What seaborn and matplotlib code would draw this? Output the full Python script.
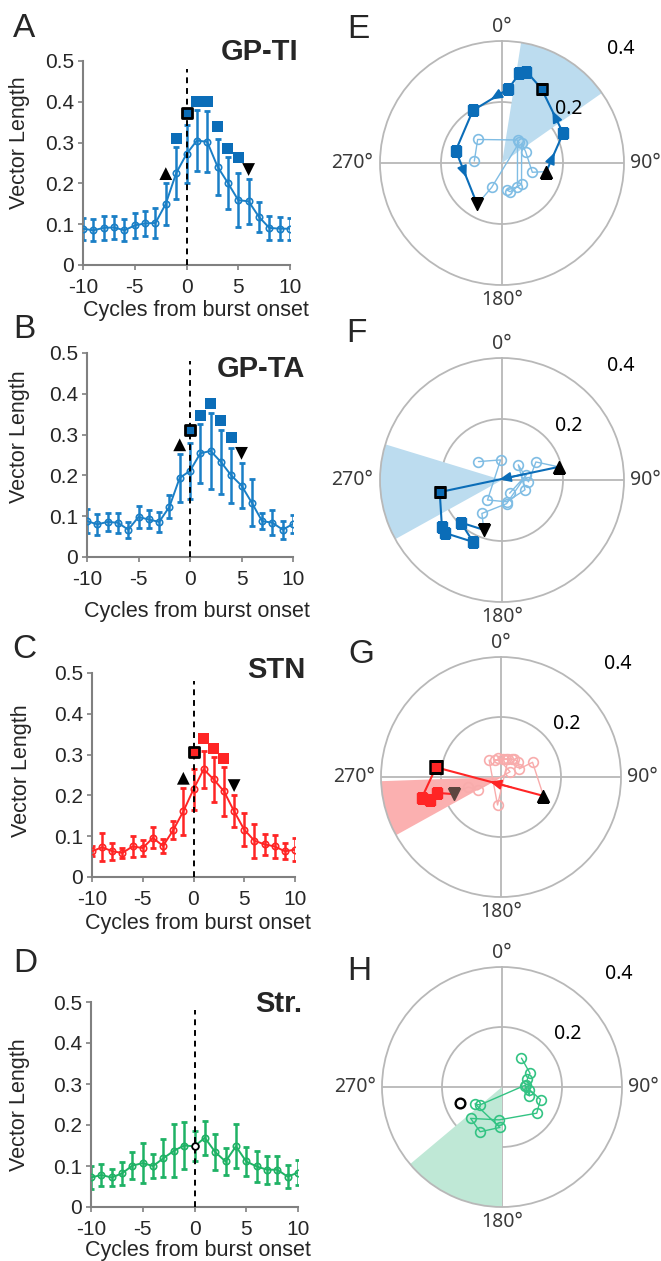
import numpy as np
import matplotlib
matplotlib.use('Agg')
import matplotlib.pyplot as plt
import seaborn as sns

sns.set_style('white')
plt.rcParams['font.family'] = ['Liberation Sans', 'DejaVu Sans']
plt.rcParams['axes.unicode_minus'] = False

W, H = 661, 1261

cycles = [-10, -9, -8, -7, -6, -5, -4, -3, -2, -1, 0, 1, 2, 3, 4, 5, 6, 7, 8, 9, 10]
x_ticks = [-10, -5, 0, 5, 10]
vl_ticks = [0, 0.1, 0.2, 0.3, 0.4, 0.5]
vl_ticklabels = ['0', '0.1', '0.2', '0.3', '0.4', '0.5']

# GP-TI
ti_vl = [0.089, 0.085, 0.091, 0.092, 0.085, 0.097, 0.102, 0.103, 0.150, 0.225, 0.272,
         0.305, 0.302, 0.241, 0.201, 0.159, 0.156, 0.118, 0.091, 0.089, 0.089]
ti_err = [0.027, 0.027, 0.030, 0.028, 0.027, 0.030, 0.030, 0.036, 0.052, 0.064, 0.071,
          0.074, 0.075, 0.069, 0.063, 0.067, 0.056, 0.037, 0.030, 0.028, 0.027]
ti_sq_x = [-1, 1, 2, 3, 4, 5]
ti_sq_y = [0.310, 0.400, 0.400, 0.339, 0.285, 0.264]
ti_box = [0, 0.372]
ti_up = [-2, 0.224]
ti_down = [6, 0.234]

# GP-TA
ta_vl = [0.088, 0.080, 0.086, 0.084, 0.067, 0.098, 0.092, 0.086, 0.123, 0.194, 0.211,
         0.254, 0.260, 0.233, 0.200, 0.175, 0.133, 0.088, 0.084, 0.067, 0.081]
ta_err = [0.029, 0.025, 0.023, 0.024, 0.020, 0.027, 0.022, 0.025, 0.028, 0.059, 0.068,
          0.073, 0.094, 0.079, 0.067, 0.055, 0.058, 0.020, 0.030, 0.022, 0.022]
ta_sq_x = [1, 2, 3, 4]
ta_sq_y = [0.346, 0.376, 0.335, 0.293]
ta_box = [0, 0.311]
ta_up = [-1, 0.275]
ta_down = [5, 0.254]

# STN
stn_vl = [0.063, 0.073, 0.063, 0.059, 0.075, 0.071, 0.096, 0.076, 0.115, 0.161, 0.215,
          0.264, 0.239, 0.210, 0.161, 0.116, 0.089, 0.080, 0.075, 0.063, 0.067]
stn_err = [0.012, 0.035, 0.021, 0.012, 0.025, 0.020, 0.026, 0.017, 0.022, 0.057, 0.050,
           0.046, 0.055, 0.060, 0.039, 0.040, 0.042, 0.025, 0.029, 0.020, 0.028]
stn_sq_x = [1, 2, 3]
stn_sq_y = [0.340, 0.315, 0.291]
stn_box = [0, 0.306]
stn_up = [-1, 0.242]
stn_down = [4, 0.224]

# Str.
str_vl = [0.072, 0.078, 0.072, 0.082, 0.101, 0.107, 0.100, 0.119, 0.137, 0.150, 0.148,
          0.169, 0.134, 0.111, 0.148, 0.111, 0.099, 0.091, 0.091, 0.074, 0.084]
str_err = [0.028, 0.026, 0.021, 0.028, 0.032, 0.048, 0.030, 0.047, 0.065, 0.058, 0.037,
           0.041, 0.044, 0.034, 0.054, 0.035, 0.037, 0.034, 0.033, 0.028, 0.030]

# polar trajectories (angle in degrees, vector length)
e_ang = [101, 64, 28, 15, 11, 5, 331, 285, 211]
e_r = [0.148, 0.223, 0.276, 0.310, 0.300, 0.244, 0.197, 0.157, 0.158]
e_pre_ang = [274, 314, 34, 147, 170, 164, 137, 45, 64, 107]
e_pre_r = [0.091, 0.111, 0.091, 0.093, 0.090, 0.098, 0.094, 0.091, 0.086, 0.104]
e_post_ang = [203, 40]
e_post_r = [0.087, 0.088]
e_wedge = [9, 55]

f_ang = [77, 259, 232, 227, 205, 224, 200]
f_r = [0.191, 0.208, 0.250, 0.255, 0.224, 0.194, 0.174]
f_pre_ang = [308, 356, 216, 168, 113, 47, 94, 62]
f_pre_r = [0.098, 0.066, 0.081, 0.073, 0.082, 0.073, 0.087, 0.126]
f_post_ang = [211, 169, 78, 150]
f_post_r = [0.128, 0.079, 0.082, 0.050]
f_wedge = [241, 287]

g_ang = [114, 278.5, 255, 252, 256, 250]
g_r = [0.155, 0.219, 0.274, 0.249, 0.219, 0.167]
g_pre_ang = [325, 187, 22, 341, 5, 37, 50, 66, 65]
g_pre_r = [0.069, 0.094, 0.064, 0.060, 0.059, 0.074, 0.076, 0.067, 0.116]
g_post_ang = [253, 241, 60, 350, 15, 30]
g_post_r = [0.114, 0.089, 0.035, 0.065, 0.062, 0.070]
g_wedge = [241, 268]

h_ang = [34, 64, 73, 96, 108, 87, 108, 127, 185, 225, 206, 183, 238, 231, 85]
h_r = [0.116, 0.104, 0.088, 0.092, 0.096, 0.077, 0.135, 0.145, 0.110, 0.148, 0.166,
       0.135, 0.106, 0.095, 0.080]
h_zero = [249, 0.150]
h_wedge = [180, 230]

blue = '#1a7fc6'
blue_dark = '#0b6db8'
blue_light = '#80bde4'
blue_wedge = '#bcdcef'
red = '#ff2525'
red_light = '#f8acac'
red_wedge = '#fbb0b0'
green = '#1fb265'
green_h = '#33c383'
green_wedge = '#bfe8d6'
gray = '#808080'
pgray = '#b8b8b8'

fig = plt.figure(figsize=(W / 100, H / 100), dpi=100)


def px_rect(x0, x1, ytop, ybot):
    return [x0 / W, 1 - ybot / H, (x1 - x0) / W, (ybot - ytop) / H]


def line_panel(rect, vl, err, col, name, name_xy, ylab_xy, xlab_xy):
    ax = fig.add_axes(rect)
    ax.errorbar(cycles, vl, yerr=err, fmt='none', ecolor=col, elinewidth=1.8,
                capsize=2.2, capthick=2, zorder=2)
    sns.lineplot(x=cycles, y=vl, ax=ax, color=col, lw=1.4, marker='o', ms=4.6,
                 markerfacecolor='none', markeredgecolor=col, markeredgewidth=1.2, zorder=3)
    ax.plot([0, 0], [0, 0.48], color='k', lw=1.4, dashes=(3, 2.5), zorder=4)
    ax.set_xlim(-10, 10)
    ax.set_ylim(0, 0.5)
    ax.set_xticks(x_ticks)
    ax.set_yticks(vl_ticks)
    ax.set_yticklabels(vl_ticklabels)
    for s in ['top', 'right']:
        ax.spines[s].set_visible(False)
    for s in ['left', 'bottom']:
        ax.spines[s].set_color(gray)
        ax.spines[s].set_linewidth(1.5)
    ax.tick_params(labelsize=15, length=3.5, width=1.2, color=gray, pad=3, direction='out',
                   bottom=True, left=True)
    ax.tick_params(axis='x', pad=6)
    ax.set_ylabel('Vector Length', fontsize=15.5)
    ax.set_xlabel('Cycles from burst onset', fontsize=15.5)
    ax.yaxis.set_label_coords(*ylab_xy)
    ax.xaxis.set_label_coords(*xlab_xy)
    ax.text(name_xy[0], name_xy[1], name, transform=ax.transAxes, ha='right', va='baseline',
            fontsize=21, fontweight='bold')
    return ax


def marks(ax, sq_x, sq_y, col, box, up, down):
    sns.scatterplot(x=sq_x, y=sq_y, ax=ax, marker='s', s=62, color=col, edgecolor='none', zorder=5)
    sns.scatterplot(x=[box[0]], y=[box[1]], ax=ax, marker='s', s=62, color=col,
                    edgecolor='k', linewidth=2, zorder=6)
    sns.scatterplot(x=[up[0]], y=[up[1]], ax=ax, marker='^', s=85, color='k', edgecolor='none', zorder=6)
    sns.scatterplot(x=[down[0]], y=[down[1]], ax=ax, marker='v', s=85, color='k', edgecolor='none', zorder=6)


axA = line_panel(px_rect(83, 290, 61, 265), ti_vl, ti_err, blue, 'GP-TI', (1.04, 1.005),
                 (-0.256, 0.60), (0.545, -0.17))
marks(axA, ti_sq_x, ti_sq_y, blue_dark, ti_box, ti_up, ti_down)

axB = line_panel(px_rect(87, 293, 353, 557), ta_vl, ta_err, blue, 'GP-TA', (1.058, 0.88),
                 (-0.277, 0.59), (0.534, -0.216))
marks(axB, ta_sq_x, ta_sq_y, blue_dark, ta_box, ta_up, ta_down)

axC = line_panel(px_rect(92, 295, 673, 877), stn_vl, stn_err, red, 'STN', (1.054, 0.975),
                 (-0.296, 0.52), (0.522, -0.176))
marks(axC, stn_sq_x, stn_sq_y, red, stn_box, stn_up, stn_down)

axD = line_panel(px_rect(91, 298, 1002, 1207), str_vl, str_err, green, 'Str.', (1.019, 0.951),
                 (-0.295, 0.50), (0.517, -0.161))
axD.plot([0], [str_vl[10]], marker='o', ms=4.8, mfc='white', mec='k', mew=1.3, zorder=6)


def polar_panel(cx, cy, R):
    ax = fig.add_axes(px_rect(cx - R, cx + R, cy - R, cy + R), projection='polar')
    ax.set_theta_zero_location('N')
    ax.set_theta_direction(-1)
    ax.set_ylim(0, 0.4)
    ax.set_yticks([0.2])
    ax.set_yticklabels([])
    ax.set_xticks(np.deg2rad([0, 90, 180, 270]))
    ax.set_xticklabels([])
    ax.grid(True, color=pgray, lw=1.3)
    ax.spines['polar'].set_color(pgray)
    ax.spines['polar'].set_linewidth(1.3)
    ax.set_axisbelow(True)
    ax.patch.set_alpha(0)
    lab = dict(ha='center', va='center', fontsize=14, color='#3a3a3a',
               family=['Noto Sans', 'DejaVu Sans'], clip_on=False)
    ax.text(np.deg2rad(0), 0.445, '0°', **lab)
    ax.text(np.deg2rad(90), 0.47, '90°', **lab)
    ax.text(np.deg2rad(180), 0.45, '180°', **lab)
    ax.text(np.deg2rad(270), 0.49, '270°', **lab)
    rl = dict(lab)
    rl['color'] = 'k'
    ax.text(np.deg2rad(51), 0.28, '0.2', **rl)
    ax.text(np.deg2rad(46), 0.54, '0.4', **rl)
    return ax


def wedge(ax, w, col):
    ax.bar(np.deg2rad((w[0] + w[1]) / 2), 0.4, width=np.deg2rad(w[1] - w[0]), bottom=0,
           color=col, linewidth=0, zorder=1)


def light_path(ax, ang, r, col, lw=1.0):
    t = np.deg2rad(ang)
    ax.plot(t, r, color=col, lw=lw, zorder=2)


def light_circles(ax, ang, r, col):
    ax.plot(np.deg2rad(ang), r, ls='none', marker='o', ms=7, mfc='none', mec=col, mew=1.2, zorder=3)


def mid_arrow(ax, a1, r1, a2, r2, col):
    t1, t2 = np.deg2rad(a1), np.deg2rad(a2)
    x1, y1 = r1 * np.cos(t1), r1 * np.sin(t1)
    x2, y2 = r2 * np.cos(t2), r2 * np.sin(t2)
    xm, ym = (x1 + x2) / 2, (y1 + y2) / 2
    xb, yb = xm - 0.2 * (x2 - x1), ym - 0.2 * (y2 - y1)
    ax.annotate('', xy=(np.arctan2(ym, xm), np.hypot(xm, ym)),
                xytext=(np.arctan2(yb, xb), np.hypot(xb, yb)),
                arrowprops=dict(arrowstyle='-|>,head_length=0.7,head_width=0.3', color=col,
                                lw=1.2, shrinkA=0, shrinkB=0), zorder=6)


def dark_path(ax, ang, r, col, box_i, arrows, down_col='k', sq_ms=6.5):
    t = np.deg2rad(ang)
    ax.plot(t, r, color=col, lw=1.5, zorder=4)
    ax.plot(t[1:-1], r[1:-1], ls='none', marker='s', ms=sq_ms, color=col, zorder=5)
    ax.plot(t[box_i], r[box_i], marker='s', ms=sq_ms + 0.5, mfc=col, mec='k', mew=1.8, zorder=6)
    ax.plot(t[0], r[0], marker='^', ms=9, color='k', zorder=6)
    ax.plot(t[-1], r[-1], marker='v', ms=9, color=down_col, zorder=6)
    for i in arrows:
        mid_arrow(ax, ang[i], r[i], ang[i + 1], r[i + 1], col)


# E
axE = polar_panel(502, 163, 122)
wedge(axE, e_wedge, blue_wedge)
light_path(axE, e_pre_ang + [e_ang[0]], e_pre_r + [e_r[0]], blue_light)
light_path(axE, [e_ang[-1]] + e_post_ang, [e_r[-1]] + e_post_r, blue_light)
light_circles(axE, e_pre_ang + e_post_ang, e_pre_r + e_post_r, blue_light)
dark_path(axE, e_ang, e_r, blue_dark, 2, [0, 1, 5, 7])

# F
axF = polar_panel(502, 480, 122)
wedge(axF, f_wedge, blue_wedge)
light_path(axF, f_pre_ang + [f_ang[0]], f_pre_r + [f_r[0]], blue_light)
light_path(axF, [f_ang[-1]] + f_post_ang, [f_r[-1]] + f_post_r, blue_light)
light_circles(axF, f_pre_ang + f_post_ang, f_pre_r + f_post_r, blue_light)
dark_path(axF, f_ang, f_r, blue_dark, 1, [0])

# G
axG = polar_panel(501, 777, 120)
wedge(axG, g_wedge, red_wedge)
light_path(axG, g_pre_ang + [g_ang[0]], g_pre_r + [g_r[0]], red_light)
light_path(axG, [g_ang[-1]] + g_post_ang, [g_r[-1]] + g_post_r, red_light)
light_circles(axG, g_pre_ang + g_post_ang, g_pre_r + g_post_r, red_light)
dark_path(axG, g_ang, g_r, red, 1, [0], down_col='#5c463f', sq_ms=7.5)

# H
axH = polar_panel(502, 1087, 120)
wedge(axH, h_wedge, green_wedge)
light_path(axH, h_ang, h_r, green_h)
light_circles(axH, h_ang, h_r, green_h)
axH.plot(np.deg2rad(h_zero[0]), h_zero[1], marker='o', ms=7, mfc='none', mec='k', mew=1.7, zorder=5)

# panel letters
for letter, (lx, ly) in zip('ABCDEFGH', [(13, 37), (13, 338), (12, 658), (13, 972),
                                         (347, 38), (346, 342), (348, 663), (347, 980)]):
    fig.text(lx / W, 1 - ly / H, letter, fontsize=24, ha='left', va='baseline')

fig.savefig('out.png', dpi=100)
